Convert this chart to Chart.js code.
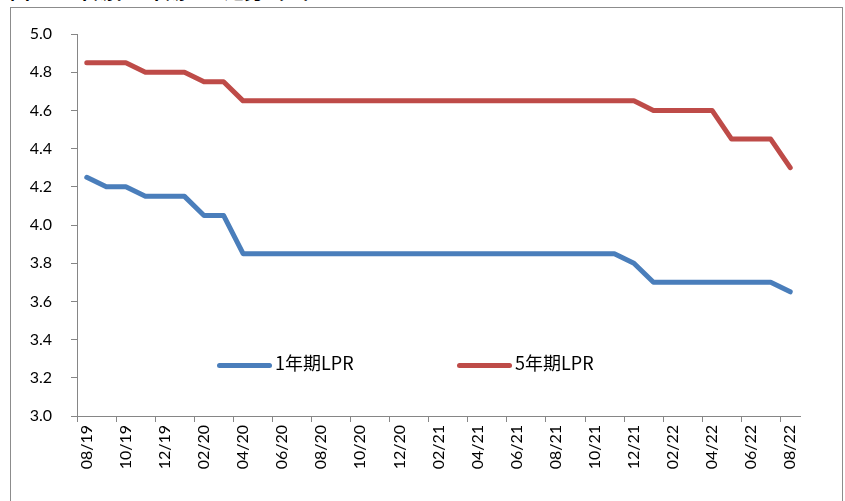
<!DOCTYPE html>
<html>
<head>
<meta charset="utf-8">
<script src="https://cdn.jsdelivr.net/npm/chart.js@4/dist/chart.umd.min.js"></script>
<style>
	body { margin:0; background:#fff; }
	#wrap { position:relative; width:845px; height:501px; overflow:hidden; }
	#title { position:absolute; left:10px; top:-24px; font:bold 20px "Noto Sans CJK SC"; color:#000; white-space:nowrap; }
	#frame { position:absolute; left:10px; top:7px; width:831px; height:510px; border:1px solid #8c8c8c; }
	#cv { position:absolute; left:0; top:0; }
	.lg { position:absolute; top:349px; font:18px "Noto Sans CJK SC", Lato; color:#000; white-space:nowrap; }
	.lg i { display:inline-block; width:55px; height:5px; border-radius:3px; vertical-align:middle; margin-right:3px; }
</style>
</head>
<body>
<div id="wrap">
	<div id="title">图1：1年期和5年期LPR走势（%）</div>
	<div id="frame"></div>
	<canvas id="cv" width="845" height="501"></canvas>
	<div class="lg" style="left:217px;"><i style="background:#4a7ebb"></i>1年期LPR</div>
	<div class="lg" style="left:457px;"><i style="background:#be4b48"></i>5年期LPR</div>
</div>
<script>
	// 월별 라벨 (2019.08 ~ 2022.08)
	const months = ["08/19","09/19","10/19","11/19","12/19",
		"01/20","02/20","03/20","04/20","05/20","06/20","07/20","08/20","09/20","10/20","11/20","12/20",
		"01/21","02/21","03/21","04/21","05/21","06/21","07/21","08/21","09/21","10/21","11/21","12/21",
		"01/22","02/22","03/22","04/22","05/22","06/22","07/22","08/22"];
	// 1년 LPR
	const lpr1y = [4.25,4.20,4.20,4.15,4.15,
		4.15,4.05,4.05,3.85,3.85,3.85,3.85,3.85,3.85,3.85,3.85,3.85,
		3.85,3.85,3.85,3.85,3.85,3.85,3.85,3.85,3.85,3.85,3.85,3.80,
		3.70,3.70,3.70,3.70,3.70,3.70,3.70,3.65];
	// 5년 LPR
	const lpr5y = [4.85,4.85,4.85,4.80,4.80,
		4.80,4.75,4.75,4.65,4.65,4.65,4.65,4.65,4.65,4.65,4.65,4.65,
		4.65,4.65,4.65,4.65,4.65,4.65,4.65,4.65,4.65,4.65,4.65,4.65,
		4.60,4.60,4.60,4.60,4.45,4.45,4.45,4.30];
	const yTicks = [3.0,3.2,3.4,3.6,3.8,4.0,4.2,4.4,4.6,4.8,5.0];

	const axisColor = "#868686";
	const tickFont = { family: "Lato, 'Liberation Sans'", size: 16 };

	new Chart(document.getElementById("cv"), {
		type: "line",
		data: {
			labels: months,
			datasets: [
				{ label: "1年期LPR", data: lpr1y, borderColor: "#4a7ebb", borderWidth: 5, pointRadius: 0, tension: 0, borderCapStyle: "round", borderJoinStyle: "round" },
				{ label: "5年期LPR", data: lpr5y, borderColor: "#be4b48", borderWidth: 5, pointRadius: 0, tension: 0, borderCapStyle: "round", borderJoinStyle: "round" }
			]
		},
		options: {
			responsive: false,
			animation: false,
			layout: { padding: { left: 0, top: 34, right: 45, bottom: 0 } },
			plugins: { legend: { display: false }, tooltip: { enabled: false } },
			scales: {
				x: {
					offset: true,
					afterFit: (s) => { s.height = 85; },
					border: { display: true, color: axisColor, width: 1 },
					grid: {
						offset: true,
						drawOnChartArea: false,
						drawTicks: true,
						tickLength: 6,
						color: (ctx) => (ctx.index % 2 === 0 ? axisColor : "rgba(0,0,0,0)")
					},
					ticks: {
						autoSkip: false,
						maxRotation: 90,
						minRotation: 90,
						padding: 3,
						color: "#000",
						font: tickFont,
						callback: function (v, i) { return i % 2 === 0 ? months[i] : ""; }
					}
				},
				y: {
					min: 3, max: 5,
					afterFit: (s) => { s.width = 77; },
					afterBuildTicks: (s) => { s.ticks = yTicks.map(v => ({ value: v })); },
					border: { display: true, color: axisColor, width: 1 },
					grid: { drawOnChartArea: false, drawTicks: true, tickLength: 6, color: axisColor },
					ticks: {
						padding: 19,
						color: "#000",
						font: tickFont,
						callback: (v) => Number(v).toFixed(1)
					}
				}
			}
		}
	});
</script>
</body>
</html>
